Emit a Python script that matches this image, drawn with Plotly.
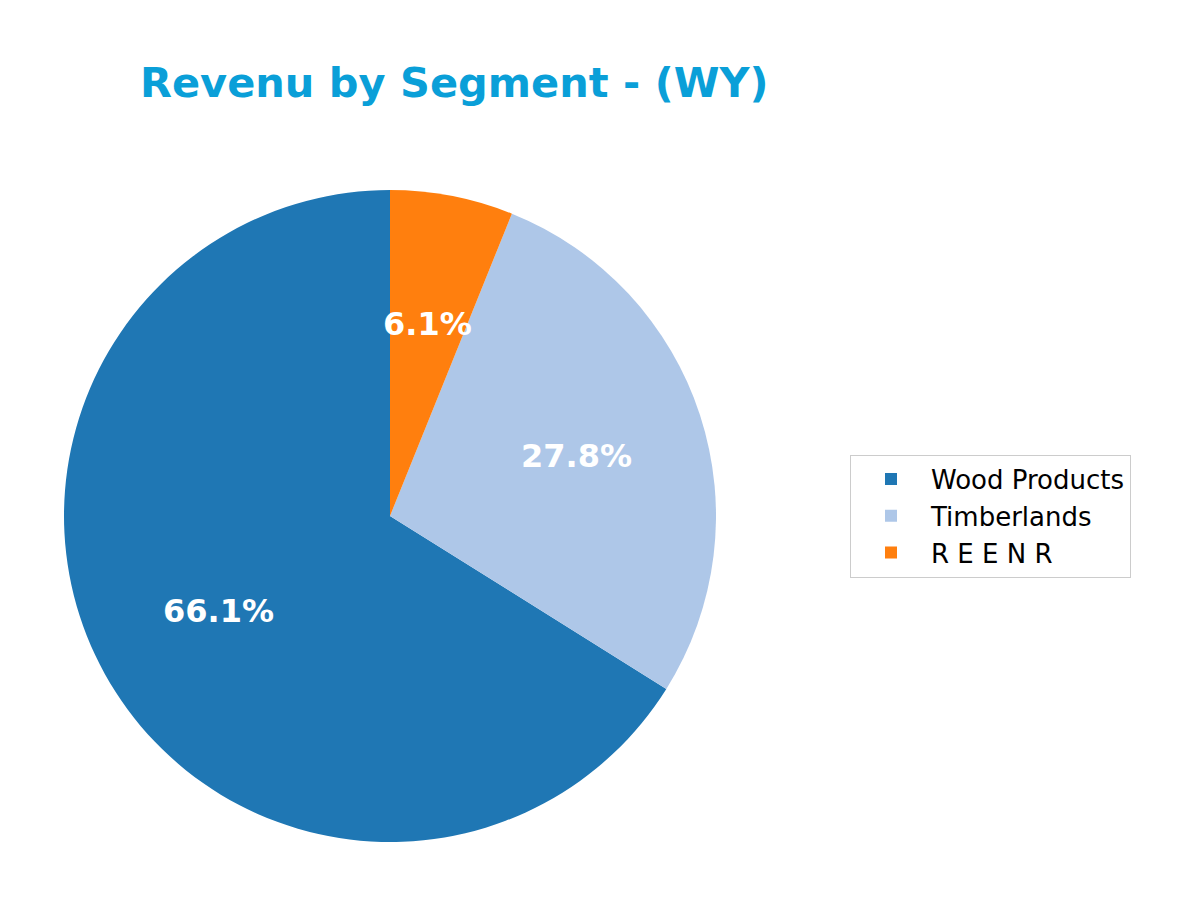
import math
import plotly.graph_objects as go

# segments et parts de revenu (%)
segments = ["Wood Products", "Timberlands", "R E E N R"]
parts = [66.1, 27.8, 6.1]
couleurs = ["#1f77b4", "#aec7e8", "#ff7f0e"]

W, H = 1200, 908
off = 8  # marge du body html
cx, cy, r = 390 - off, 516 - off, 326  # centre et rayon du camembert en pixels

total = sum(parts)
# en sens anti-horaire plotly fait finir la 1re part à midi : on tourne pour qu'elle y commence
rot = 360 * (total - parts[0]) / total

fig = go.Figure(go.Pie(
    labels=segments,
    values=parts,
    sort=False,
    direction="counterclockwise",
    rotation=rot,
    marker=dict(colors=couleurs, line=dict(width=0)),
    textinfo="none",
    hoverinfo="label+percent",
    domain=dict(x=[(cx - r) / W, (cx + r) / W], y=[(H - cy - r) / H, (H - cy + r) / H]),
))

# étiquettes de pourcentage à 0.6 du rayon, comme autopct de matplotlib
cumul = 0
for v in parts:
    ang = math.radians(90 + 360 * (cumul + v / 2) / total)
    cumul += v
    fig.add_annotation(
        x=(cx + 0.6 * r * math.cos(ang)) / W,
        y=(H - cy + 0.6 * r * math.sin(ang)) / H,
        xref="paper", yref="paper",
        xanchor="center", yanchor="middle",
        text=f"{100 * v / total:.1f}%",
        showarrow=False,
        font=dict(family="DejaVu Sans", size=32, color="white", weight="bold"),
    )

fig.update_layout(
    width=W, height=H,
    margin=dict(l=0, r=0, t=0, b=0),
    paper_bgcolor="white",
    title=dict(
        text="Revenu by Segment - (WY)",
        x=(140 - off) / W, xanchor="left",
        y=1 - (82 - off) / H, yanchor="middle",
        font=dict(family="DejaVu Sans", size=41.5, color="#0a9fd8", weight="bold"),
    ),
    legend=dict(
        x=(850 - off) / W, xanchor="left",
        y=(H - 516 + off) / H, yanchor="middle",
        font=dict(family="DejaVu Sans", size=26, color="black"),
        bordercolor="#cccccc", borderwidth=1,
        bgcolor="white",
        itemwidth=70,
    ),
)

fig.write_html("out.html")
